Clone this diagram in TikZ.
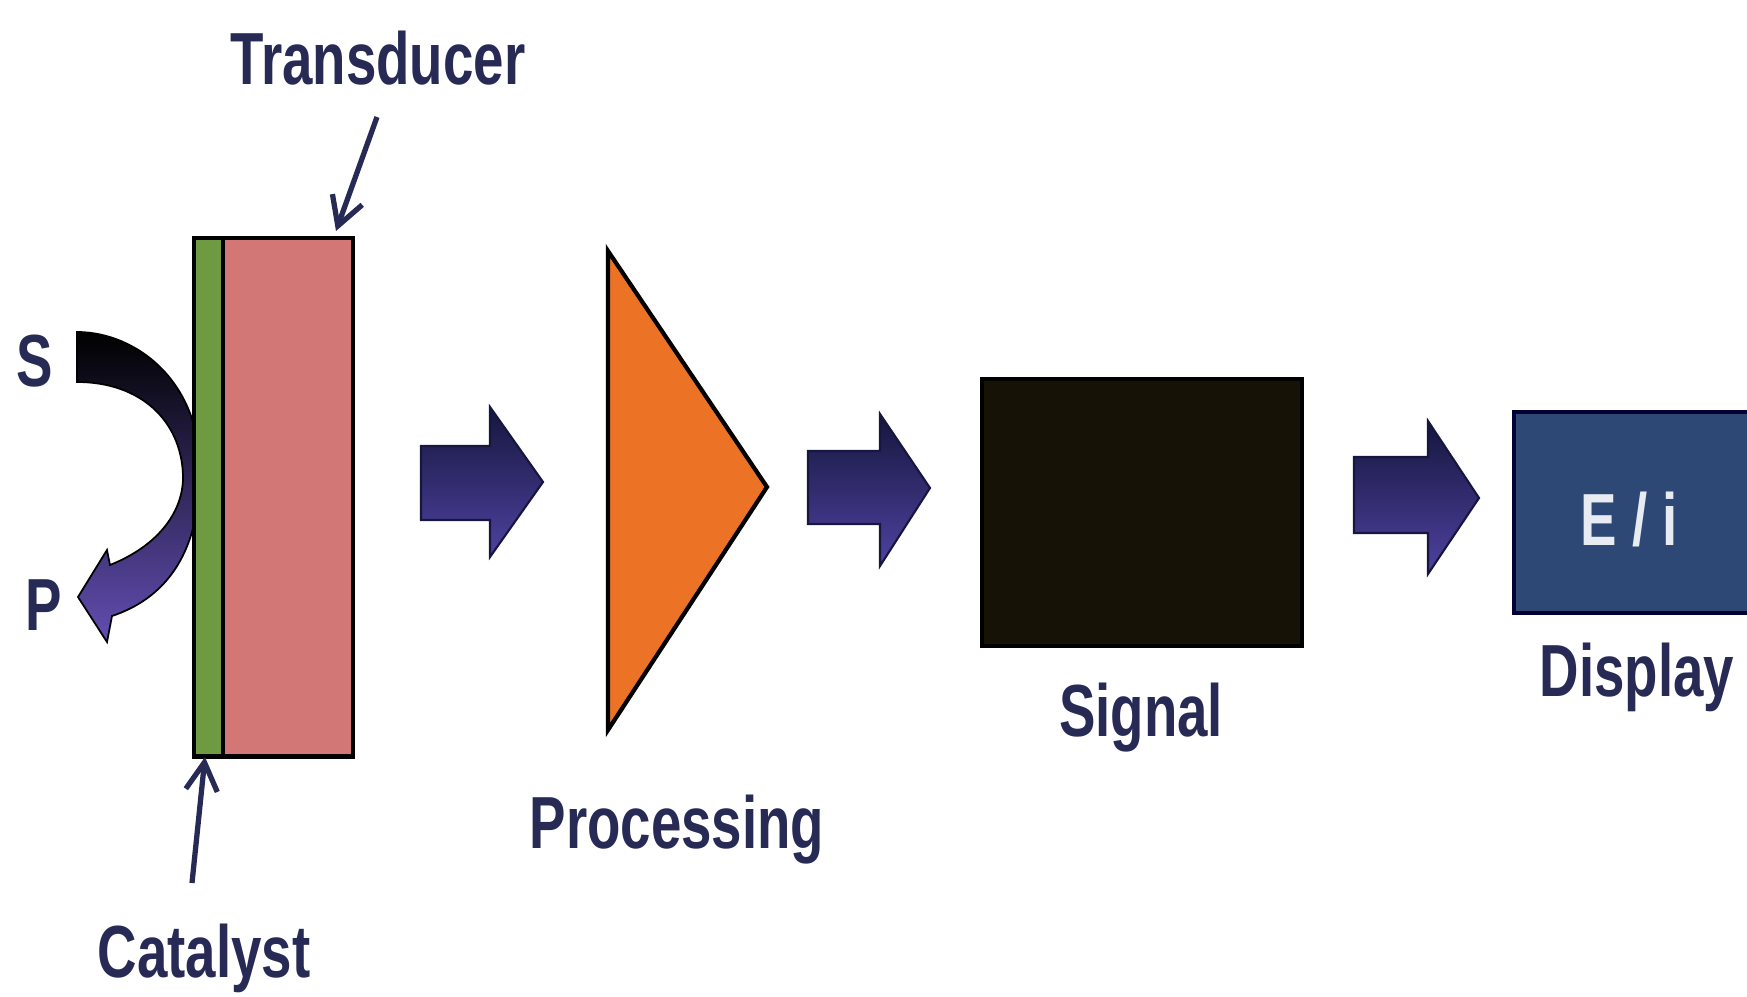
\documentclass[tikz,border=0pt]{standalone}
\usepackage{fontspec}
\setmainfont{Liberation Sans}
\usetikzlibrary{arrows.meta}
\definecolor{navy}{RGB}{38,42,85}
\definecolor{catgreen}{RGB}{110,155,65}
\definecolor{tdpink}{RGB}{210,118,118}
\definecolor{procorange}{RGB}{236,115,38}
\definecolor{sigblack}{RGB}{22,18,6}
\definecolor{dispblue}{RGB}{46,72,118}
\definecolor{arrtop}{RGB}{22,22,62}
\definecolor{arrmid}{RGB}{48,52,150}
\definecolor{arrbot}{RGB}{78,66,160}
\definecolor{spbot}{RGB}{98,78,178}
\begin{document}
\begin{tikzpicture}[x=0.01cm,y=-0.01cm,
  lbl/.style={text=navy, anchor=base, inner sep=0pt, font=\fontsize{21}{25}\selectfont\bfseries},
  ptr/.style={draw=navy, line width=1.5pt, -{Straight Barb[length=8pt,width=9pt,line width=1.5pt]}},
  blockarr/.style={draw=arrtop, line width=0.6pt, top color=arrtop, middle color=arrmid, bottom color=arrbot},
  boxed/.style={draw=black, line width=1.2pt, inner sep=0pt, anchor=north west}]
\useasboundingbox (0,0) rectangle (1747,997);

% S -> P curved arrow (drawn under the catalyst strip)
\path[draw=black, line width=0.5pt, top color=black, bottom color=spbot]
  (77,332) .. controls (135,332) and (200,380) .. (200,470)
  .. controls (200,560) and (160,600) .. (112,616)
  -- (107,642) -- (78,597) -- (107,550) -- (110,565)
  .. controls (160,545) and (184,510) .. (183,475)
  .. controls (181,420) and (140,382) .. (77,382) -- cycle;

% catalyst strip and transducer
\node[boxed, fill=catgreen, minimum width=0.29cm, minimum height=5.18cm] (cat) at (192,236) {};
\node[boxed, fill=tdpink, minimum width=1.30cm, minimum height=5.18cm] (td) at (221,236) {};

% processing triangle
\coordinate (pa) at (608,251);
\coordinate (pb) at (608,730);
\coordinate (pc) at (767,487);
\draw[fill=procorange, line width=1.2pt, line join=miter] (pa) -- (pc) -- (pb) -- cycle;

% signal and display boxes
\node[boxed, fill=sigblack, minimum width=3.20cm, minimum height=2.67cm] (sig) at (980,377) {};
\node[boxed, draw=black!80!blue, fill=dispblue, minimum width=2.35cm, minimum height=2.01cm] (disp) at (1512,410) {};

% block arrows
\path[blockarr] (421,446) -- (490,446) -- (490,407) -- (543,482) -- (490,557) -- (490,520) -- (421,520) -- cycle;
\path[blockarr] (808,451) -- (880,451) -- (880,414) -- (930,488) -- (880,566) -- (880,524) -- (808,524) -- cycle;
\path[blockarr] (1354,457) -- (1428,457) -- (1428,421) -- (1479,498) -- (1428,574) -- (1428,533) -- (1354,533) -- cycle;

% labels
\node[lbl] (tdlbl) at (378,85) {\scalebox{0.74}[1]{Transducer}};
\node[lbl] (catlbl) at (204,978) {\scalebox{0.74}[1]{Catalyst}};
\node[lbl] (proclbl) at (677,849) {\scalebox{0.74}[1]{Processing}};
\node[lbl] (siglbl) at (1141,737) {\scalebox{0.74}[1]{Signal}};
\node[lbl] (displbl) at (1637,696) {\scalebox{0.74}[1]{Display}};
\node[lbl] (slbl) at (35,387) {\scalebox{0.74}[1]{S}};
\node[lbl] (plbl) at (44,630) {\scalebox{0.74}[1]{P}};
\node[lbl, text={rgb,255:red,232;green,236;blue,242}] (eilbl) at (1629,546) {\scalebox{0.74}[1]{E / i}};

% pointer arrows
\coordinate (tdtail) at (377,117);
\coordinate (tdtip) at (336,231);
\draw[ptr] (tdtail) -- (tdtip);
\coordinate (cattail) at (192,883);
\coordinate (cattip) at (205,757);
\draw[ptr] (cattail) -- (cattip);
\end{tikzpicture}
\end{document}
